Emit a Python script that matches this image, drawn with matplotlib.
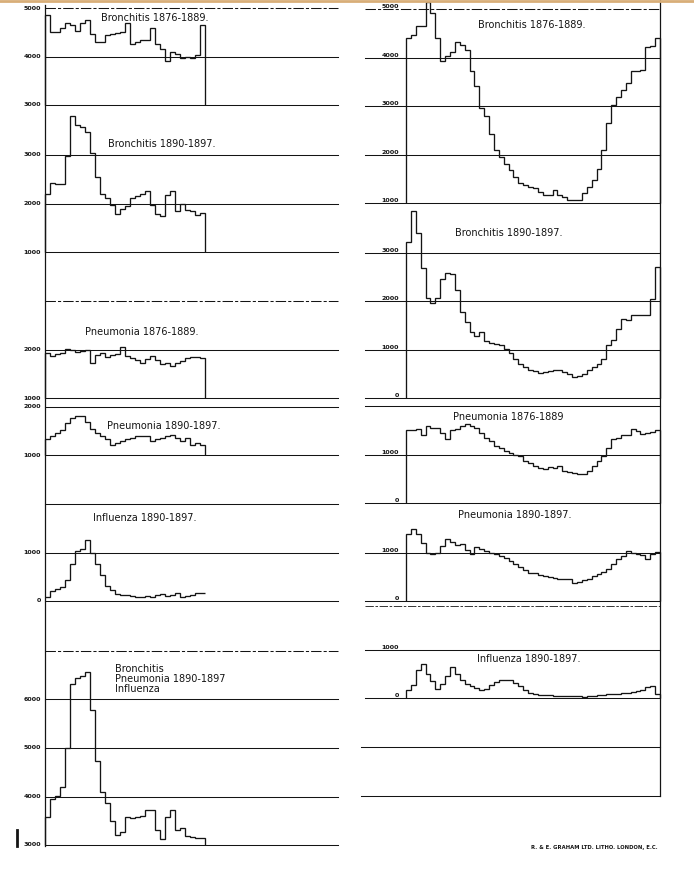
import numpy as np
import matplotlib.pyplot as plt

# ==========================================
# data (deaths per step)
# ==========================================
# left column: 32 steps per series
left_bronchitis_76 = [4850, 4500, 4500, 4580, 4700, 4640, 4520, 4700, 4760, 4470,
                      4300, 4300, 4450, 4470, 4490, 4510, 4700, 4250, 4290, 4350,
                      4330, 4580, 4250, 4150, 3910, 4100, 4050, 3970, 4000, 3970,
                      4040, 4650]
left_bronchitis_90 = [2190, 2430, 2410, 2410, 2980, 3810, 3620, 3570, 3480, 3050,
                      2540, 2190, 2120, 1970, 1780, 1880, 1950, 2120, 2160, 2190,
                      2250, 1970, 1780, 1750, 2180, 2250, 1850, 2000, 1860, 1840,
                      1770, 1810]
left_pneumonia_76 = [1930, 1860, 1915, 1930, 2010, 1990, 1940, 1965, 1990, 1720,
                     1890, 1930, 1850, 1890, 1915, 2060, 1860, 1820, 1790, 1730,
                     1800, 1860, 1790, 1700, 1720, 1660, 1720, 1770, 1820, 1850,
                     1850, 1820]
left_pneumonia_90 = [1340, 1390, 1460, 1520, 1660, 1760, 1810, 1800, 1690, 1540,
                     1460, 1390, 1320, 1200, 1250, 1290, 1320, 1350, 1390, 1400,
                     1390, 1290, 1320, 1350, 1390, 1410, 1350, 1290, 1350, 1200,
                     1250, 1200]
left_influenza_90 = [90, 210, 240, 280, 430, 760, 1030, 1080, 1260, 1000,
                     760, 530, 300, 220, 140, 120, 120, 100, 90, 90,
                     100, 80, 120, 140, 100, 120, 160, 90, 100, 130,
                     160, 170]
left_all_three_90 = [3580, 3940, 4010, 4200, 5010, 6320, 6450, 6480, 6570, 5780,
                     4740, 4100, 3870, 3490, 3210, 3270, 3580, 3550, 3570, 3600,
                     3730, 3720, 3310, 3120, 3570, 3720, 3310, 3360, 3190, 3170,
                     3140, 3150]

# right column: 52 steps per series
right_bronchitis_76 = [4400, 4470, 4640, 4640, 5140, 4920, 4400, 3920, 4030, 4120,
                       4310, 4260, 4160, 3730, 3410, 2950, 2790, 2420, 2100, 1950,
                       1810, 1680, 1540, 1410, 1370, 1330, 1300, 1230, 1170, 1160,
                       1260, 1160, 1120, 1070, 1070, 1070, 1210, 1330, 1470, 1710,
                       2100, 2640, 3020, 3190, 3340, 3470, 3730, 3730, 3750, 4210,
                       4240, 4400]
right_bronchitis_90 = [3210, 3860, 3400, 2680, 2060, 1950, 2060, 2460, 2570, 2560,
                       2230, 1780, 1570, 1370, 1280, 1370, 1170, 1140, 1120, 1100,
                       1020, 920, 800, 710, 640, 570, 560, 520, 540, 550,
                       570, 570, 540, 500, 430, 460, 500, 570, 640, 710,
                       810, 1090, 1190, 1420, 1630, 1610, 1710, 1710, 1720, 1720,
                       2040, 2710]
right_pneumonia_76 = [1500, 1500, 1520, 1400, 1590, 1550, 1550, 1450, 1310, 1500,
                      1520, 1590, 1630, 1590, 1540, 1450, 1340, 1280, 1170, 1140,
                      1070, 1030, 990, 970, 860, 830, 760, 720, 710, 740,
                      720, 760, 670, 640, 620, 590, 600, 660, 760, 860,
                      970, 1140, 1310, 1340, 1410, 1410, 1520, 1480, 1430, 1450,
                      1470, 1500]
right_pneumonia_90 = [1390, 1480, 1390, 1190, 980, 970, 990, 1130, 1270, 1220,
                      1150, 1170, 1060, 970, 1120, 1080, 1030, 990, 970, 920,
                      880, 830, 760, 700, 630, 570, 570, 530, 510, 500,
                      480, 460, 460, 450, 370, 390, 430, 460, 510, 550,
                      600, 650, 770, 860, 920, 1030, 990, 970, 940, 860,
                      970, 1010]
right_influenza_90 = [160, 260, 570, 710, 500, 350, 190, 280, 450, 630,
                      500, 380, 280, 240, 210, 170, 190, 260, 330, 370,
                      380, 370, 310, 240, 170, 100, 80, 70, 55, 55,
                      50, 40, 40, 40, 40, 35, 20, 35, 50, 70,
                      55, 90, 80, 90, 100, 100, 120, 140, 160, 230,
                      240, 90]

W, H = 694, 869
PX_PER_K = 48.5      # pixels per 1000 deaths on the plate
INK = '#141414'
BROKEN = (0, (10, 2, 3, 2))   # worn ruling, printed in pieces

fig = plt.figure(figsize=(W / 100, H / 100), dpi=100)
fig.patch.set_facecolor('white')


def panel(values, x_axis, x_end, x_lines, y_base, base, y_top, y_bot,
          grid, labels, label_x, label_dy=0, close=True, broken=()):
    """One strip of the plate: its own axes, value scale and rulings."""
    n = len(values)
    step_px = (x_end - x_axis) / n
    x0, x1 = x_lines
    ax = fig.add_axes([x0 / W, 1 - y_bot / H, (x1 - x0) / W, (y_bot - y_top) / H])
    ax.patch.set_alpha(0)
    ax.axis('off')
    ax.set_xlim((x0 - x_axis) / step_px, (x1 - x_axis) / step_px)
    ax.set_ylim(base + (y_base - y_bot) / PX_PER_K * 1000,
                base + (y_base - y_top) / PX_PER_K * 1000)

    for g in grid:
        ls = BROKEN if g in broken else '-'
        ax.axhline(g, color=INK, lw=0.75, ls=ls, clip_on=False)
    for lab in labels:
        ax.annotate(str(lab), xy=(label_x / W, lab), xycoords=('figure fraction', 'data'),
                    xytext=(0, label_dy), textcoords='offset points',
                    ha='right', va='center', fontsize=4.6, fontweight='bold', color=INK)

    ax.stairs(values, np.arange(n + 1), baseline=base if close else None,
              color=INK, lw=0.95, clip_on=False)
    return ax


# ---------------- left column ----------------
LX = (45, 205, (45, 338))
panel(left_bronchitis_76, *LX, 105, 3000, 3, 106, [3000, 4000, 5000], [3000, 4000, 5000], 41,
      broken=(5000,))
panel(left_bronchitis_90, *LX, 252, 1000, 106, 253, [1000, 2000, 3000], [1000, 2000, 3000], 41)
panel(left_pneumonia_76, *LX, 398, 1000, 290, 399, [1000, 2000, 3000], [1000, 2000], 41,
      broken=(3000,))
panel(left_pneumonia_90, *LX, 455, 1000, 405, 456, [1000, 2000], [1000, 2000], 41)
panel(left_influenza_90, *LX, 601, 0, 500, 602, [0, 1000, 2000], [0, 1000], 41, close=False)
panel(left_all_three_90, *LX, 845, 3000, 648, 847, [3000, 4000, 5000, 6000, 7000],
      [3000, 4000, 5000, 6000], 41, broken=(7000,))

# ---------------- right column ----------------
RX = (406, 660, (365, 660))
panel(right_bronchitis_76, *RX, 203, 1000, 0, 204, [1000, 2000, 3000, 4000, 5000],
      [1000, 2000, 3000, 4000, 5000], 399, 1.5, broken=(5000,))
panel(right_bronchitis_90, *RX, 398, 0, 205, 399, [0, 1000, 2000, 3000],
      [0, 1000, 2000, 3000], 399, 1.5)
panel(right_pneumonia_76, *RX, 503, 0, 404, 504, [0, 1000, 2000], [0, 1000], 399, 1.5)
panel(right_pneumonia_90, *RX, 601, 0, 505, 602, [0, 1000], [0, 1000], 399, 1.5)
panel(right_influenza_90, *RX, 698, 0, 603, 699, [0, 1000], [0, 1000], 399, 1.5)

# ---------------- titles ----------------
titles = [
    (101, 18, 'Bronchitis 1876-1889.'),
    (108, 144, 'Bronchitis 1890-1897.'),
    (85, 332, 'Pneumonia 1876-1889.'),
    (107, 426, 'Pneumonia 1890-1897.'),
    (93, 518, 'Influenza 1890-1897.'),
    (478, 25, 'Bronchitis 1876-1889.'),
    (455, 233, 'Bronchitis 1890-1897.'),
    (453, 417, 'Pneumonia 1876-1889'),
    (458, 515, 'Pneumonia 1890-1897.'),
    (477, 659, 'Influenza 1890-1897.'),
]
for tx, ty, t in titles:
    fig.text(tx / W, 1 - ty / H, t, ha='left', va='center', fontsize=7, color=INK)
fig.text(115 / W, 1 - 679 / H, 'Bronchitis\nPneumonia 1890-1897\nInfluenza',
         ha='left', va='center', fontsize=7, color=INK, linespacing=1.05)

# ---------------- frame, blank rulings, imprint ----------------
frame = fig.add_axes([0, 0, 1, 1])
frame.patch.set_alpha(0)
frame.axis('off')
frame.set_xlim(0, W)
frame.set_ylim(H, 0)
frame.plot([45, 45], [5, 846], color=INK, lw=0.9)
frame.plot([660, 660], [0, 796], color=INK, lw=0.9)
frame.plot([17, 17], [830, 846], color=INK, lw=2.0)
frame.plot([365, 660], [606, 606], color=INK, lw=0.6, ls=BROKEN)
for yy in (747, 796):
    frame.plot([361, 660], [yy, yy], color=INK, lw=0.75)
frame.plot([0, W], [1, 1], color='#d8ae78', lw=2.0)
frame.text(658, 847, 'R. & E. GRAHAM LTD. LITHO. LONDON, E.C.', ha='right', va='center',
           fontsize=3.8, fontweight='bold', color=INK)

fig.savefig('out.png', dpi=100, facecolor='white')
